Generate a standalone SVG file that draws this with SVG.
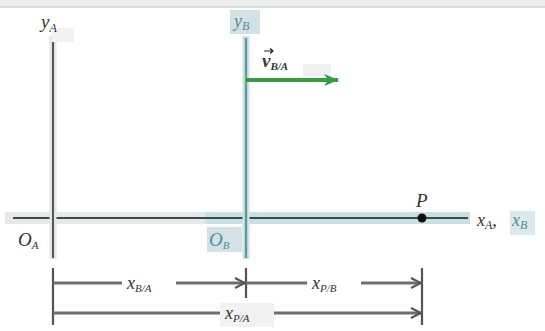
<svg xmlns="http://www.w3.org/2000/svg" width="545" height="331" viewBox="0 0 545 331">
<defs>
<style>
.lbl{font-family:"Liberation Serif",serif;font-style:italic;fill:#333;}
.teal{fill:#4f8f98;}
.dim{stroke:#6e6e6e;stroke-width:2.8;fill:none;}
.tick{stroke:#555;stroke-width:2.2;}
</style>
<marker id="chev" markerWidth="14" markerHeight="14" refX="12" refY="7" orient="auto" markerUnits="userSpaceOnUse">
<path d="M2,2 L12,7 L2,12" fill="none" stroke="#555" stroke-width="2"/>
</marker>
<marker id="garrow" markerWidth="16" markerHeight="14" refX="14" refY="7" orient="auto" markerUnits="userSpaceOnUse">
<path d="M0,1 L15,7 L0,13 L4,7 Z" fill="#3a9a48"/>
</marker>
</defs>
<rect x="0" y="0" width="545" height="331" fill="#fff"/>
<rect x="0" y="0" width="545" height="7" fill="#efefef"/>
<line x1="0" y1="7" x2="545" y2="7" stroke="#d6d6d6" stroke-width="1.5"/>

<g id="x-axis">
<line x1="5" y1="218" x2="470" y2="218" stroke="#e8e8e8" stroke-width="12"/>
<line x1="205" y1="218" x2="470" y2="218" stroke="#c9dfe1" stroke-width="12"/>
<line x1="13" y1="218" x2="468" y2="218" stroke="#3a4a4a" stroke-width="2.2"/>
<text class="lbl" x="477" y="226" font-size="18">x<tspan font-size="12" dy="3">A</tspan><tspan dy="-3">,</tspan></text>
<rect x="510" y="211" width="25" height="24" fill="#dbe9ea"/>
<text class="lbl teal" x="512" y="226" font-size="18">x<tspan font-size="12" dy="3">B</tspan></text>
</g>

<g id="y-axis-A">
<line x1="53" y1="36" x2="53" y2="259" stroke="#e6e6e6" stroke-width="7"/>
<line x1="53" y1="38" x2="53" y2="258" stroke="#555" stroke-width="2"/>
<rect x="52" y="28" width="22" height="14" fill="#f2f2f2"/>
<text class="lbl" x="41" y="28" font-size="19">y<tspan font-size="12" dy="4">A</tspan></text>
</g>

<g id="y-axis-B">
<line x1="246" y1="36" x2="246" y2="259" stroke="#d3e3e5" stroke-width="7"/>
<line x1="246" y1="38" x2="246" y2="258" stroke="#5f9aa2" stroke-width="2.4"/>
<rect x="230" y="10" width="30" height="24" fill="#d3e1e4"/>
<text class="lbl teal" x="234" y="27" font-size="18">y<tspan font-size="12" dy="3">B</tspan></text>
</g>

<g id="origin-A">
<text class="lbl" x="18" y="246" font-size="19">O<tspan font-size="11" dy="3">A</tspan></text>
</g>

<g id="origin-B">
<rect x="207" y="227" width="35" height="25" fill="#d3e1e4"/>
<text class="lbl teal" x="209" y="246" font-size="19">O<tspan font-size="11" dy="3">B</tspan></text>
</g>

<g id="point-P">
<circle cx="422" cy="218" r="4.5" fill="#111"/>
<text class="lbl" x="416" y="207" font-size="19" fill="#222">P</text>
</g>

<g id="velocity">
<rect x="303" y="64" width="28" height="12" fill="#efefef"/>
<line x1="246" y1="80" x2="338" y2="80" stroke="#3a9a48" stroke-width="4" marker-end="url(#garrow)"/>
<text class="lbl" x="262" y="67" font-size="19" font-weight="bold" fill="#222">v<tspan font-size="11" dy="3">B/A</tspan></text>
<path d="M264,51 L273,51 M270,48.5 L273,51 L270,53.5" fill="none" stroke="#222" stroke-width="1.2"/>
</g>

<g id="connectors">
<line class="tick" x1="53" y1="268" x2="53" y2="325"/>
<line class="tick" x1="246" y1="268" x2="246" y2="298"/>
<line class="tick" x1="422" y1="268" x2="422" y2="325"/>
<line class="dim" x1="53" y1="283" x2="245" y2="283" marker-end="url(#chev)"/>
<line class="dim" x1="246" y1="283" x2="421" y2="283" marker-end="url(#chev)"/>
<line class="dim" x1="53" y1="313" x2="421" y2="313" marker-end="url(#chev)"/>
</g>

<g id="dim-labels">
<rect x="122" y="273" width="54" height="20" fill="#fff"/>
<text class="lbl" x="127" y="289" font-size="18">x<tspan font-size="11" dy="3">B/A</tspan></text>
<rect x="307" y="273" width="54" height="20" fill="#fff"/>
<text class="lbl" x="312" y="289" font-size="18">x<tspan font-size="11" dy="3">P/B</tspan></text>
<rect x="220" y="303" width="54" height="24" fill="#f2f2f2"/>
<text class="lbl" x="225" y="319" font-size="18">x<tspan font-size="11" dy="3">P/A</tspan></text>
</g>
</svg>
